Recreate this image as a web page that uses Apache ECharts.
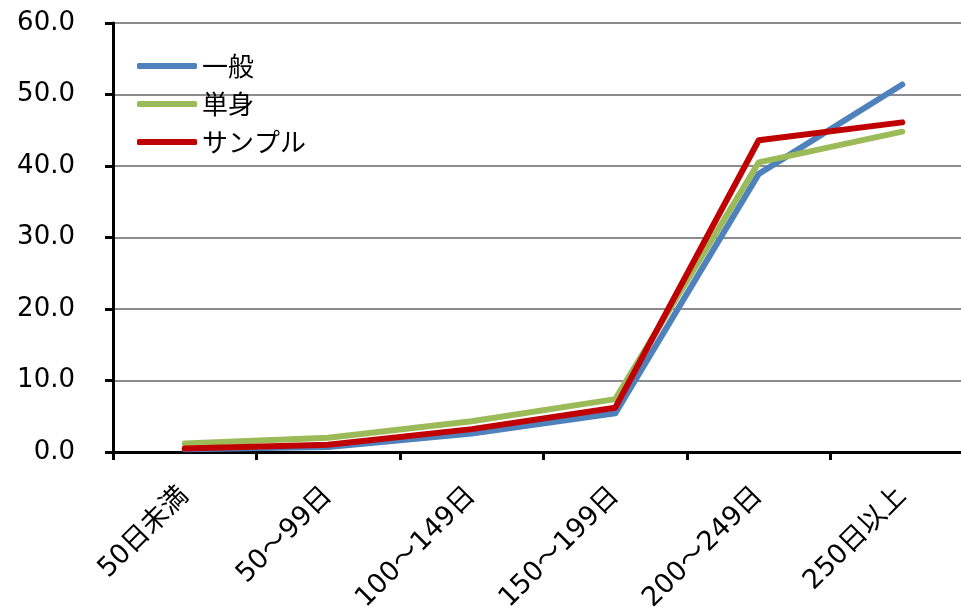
<!DOCTYPE html>
<html>
<head>
<meta charset="utf-8">
<script src="https://cdn.jsdelivr.net/npm/echarts@6/dist/echarts.min.js"></script>
<style>
  html, body { margin: 0; padding: 0; background: #fff; }
  #chart { width: 961px; height: 616px; }
</style>
</head>
<body>
<div id="chart"></div>
<script>
const categories = ["50日未満", "50～99日", "100～149日", "150～199日", "200～249日", "250日以上"]
const ippan = [0.4, 0.7, 2.6, 5.4, 38.9, 51.4]
const tanshin = [1.2, 2.0, 4.3, 7.4, 40.5, 44.8]
const sample = [0.5, 1.0, 3.2, 6.2, 43.6, 46.1]

const font = "'DejaVu Sans', 'Noto Sans CJK JP', sans-serif"
const jpFont = "'Noto Sans CJK JP', sans-serif"

const chart = echarts.init(document.getElementById("chart"))

const lineSeries = (name, data, color) => ({
  name: name,
  type: "line",
  data: data,
  symbol: "none",
  color: color,
  lineStyle: { width: 6, color: color, cap: "round", join: "round" },
})

chart.setOption({
  animation: false,
  textStyle: { fontFamily: font },
  // the plot runs past the right edge of the picture
  grid: { left: 113, width: 861, top: 23, bottom: 164, outerBoundsMode: "none" },
  legend: {
    orient: "vertical",
    left: 137,
    top: 51,
    padding: 0,
    itemWidth: 60,
    itemHeight: 6,
    itemGap: 8,
    icon: "roundRect",
    textStyle: { fontSize: 26, color: "#000", lineHeight: 30, fontFamily: jpFont },
    data: ["一般", "単身", "サンプル"],
  },
  xAxis: {
    type: "category",
    data: categories,
    boundaryGap: true,
    axisLine: { lineStyle: { color: "#000", width: 3 } },
    axisTick: { show: true, length: 8, lineStyle: { color: "#000", width: 3 } },
    axisLabel: {
      rotate: 45,
      margin: 40,
      interval: 0,
      fontSize: 27,
      color: "#000",
      fontFamily: font,
    },
    splitLine: { show: false },
  },
  yAxis: {
    type: "value",
    min: 0,
    max: 60,
    interval: 10,
    axisLine: { show: true, lineStyle: { color: "#000", width: 3 } },
    axisTick: { show: true, length: 8, lineStyle: { color: "#000", width: 3 } },
    axisLabel: {
      margin: 38,
      fontSize: 26,
      color: "#000",
      fontFamily: font,
      formatter: (v) => v.toFixed(1),
    },
    splitLine: { lineStyle: { color: "#8c8c8c", width: 2 } },
  },
  series: [
    lineSeries("一般", ippan, "#4f81bd"),
    lineSeries("単身", tanshin, "#9bbb59"),
    lineSeries("サンプル", sample, "#c00000"),
  ],
})
</script>
</body>
</html>
